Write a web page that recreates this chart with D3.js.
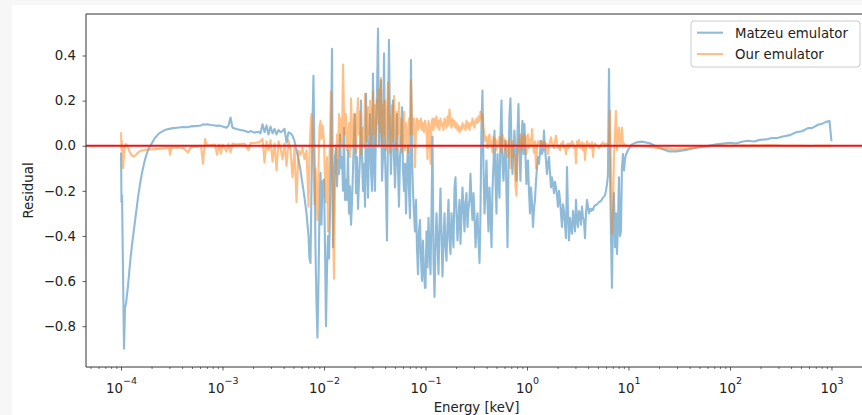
<!DOCTYPE html>
<html>
<head>
<meta charset="utf-8">
<script src="https://cdn.jsdelivr.net/npm/d3@7"></script>
<style>
  html, body { margin: 0; padding: 0; background: #f7f7f7; }
  svg { display: block; }
  text { font-family: "DejaVu Sans", sans-serif; fill: #222; }
</style>
</head>
<body>
<svg id="chart" width="862" height="415"></svg>
<script>
// Photon energy grid (keV), shared by both residual curves
const energyKeV = [
  1.000e-4, 1.011e-4, 1.023e-4, 1.046e-4, 1.070e-4, 1.095e-4, 1.120e-4, 1.172e-4, 1.227e-4, 1.283e-4,
  1.343e-4, 1.405e-4, 1.470e-4, 1.539e-4, 1.610e-4, 1.685e-4, 1.763e-4, 1.845e-4, 1.975e-4, 2.163e-4,
  2.368e-4, 2.714e-4, 2.972e-4, 3.038e-4, 3.110e-4, 3.563e-4, 4.083e-4, 4.568e-4, 4.895e-4, 5.608e-4,
  6.141e-4, 6.426e-4, 6.724e-4, 7.036e-4, 7.704e-4, 8.436e-4, 8.828e-4, 9.238e-4, 9.666e-4,

  1.000e-3, 1.095e-3, 1.146e-3, 1.199e-3, 1.254e-3, 1.374e-3, 1.504e-3, 1.647e-3, 1.804e-3, 1.888e-3,
  2.067e-3, 2.263e-3, 2.368e-3, 2.478e-3, 2.594e-3, 2.714e-3, 2.840e-3, 2.972e-3, 3.110e-3, 3.254e-3,
  3.405e-3, 3.563e-3, 3.729e-3, 3.902e-3, 4.083e-3, 4.272e-3, 4.471e-3, 4.677e-3, 4.895e-3, 5.122e-3,
  5.359e-3, 5.608e-3, 5.868e-3, 6.141e-3, 6.426e-3, 6.724e-3, 7.036e-3, 7.189e-3, 7.362e-3, 7.523e-3,
  7.704e-3, 7.872e-3, 8.062e-3, 8.237e-3, 8.436e-3, 8.619e-3, 8.828e-3, 9.019e-3, 9.238e-3, 9.437e-3,
  9.666e-3,

  1.000e-2, 1.023e-2, 1.046e-2, 1.070e-2, 1.095e-2, 1.120e-2, 1.146e-2, 1.172e-2, 1.199e-2, 1.227e-2,
  1.254e-2, 1.283e-2, 1.313e-2, 1.343e-2, 1.374e-2, 1.405e-2, 1.438e-2, 1.470e-2, 1.504e-2, 1.539e-2,
  1.574e-2, 1.610e-2, 1.647e-2, 1.685e-2, 1.724e-2, 1.763e-2, 1.804e-2, 1.845e-2, 1.888e-2, 1.930e-2,
  1.975e-2, 2.020e-2, 2.067e-2, 2.114e-2, 2.163e-2, 2.212e-2, 2.263e-2, 2.314e-2, 2.368e-2, 2.422e-2,
  2.478e-2, 2.534e-2, 2.594e-2, 2.651e-2, 2.714e-2, 2.774e-2, 2.840e-2, 2.903e-2, 2.972e-2, 3.038e-2,
  3.110e-2, 3.179e-2, 3.254e-2, 3.326e-2, 3.405e-2, 3.480e-2, 3.563e-2, 3.642e-2, 3.729e-2, 3.811e-2,
  3.902e-2, 3.987e-2, 4.083e-2, 4.172e-2, 4.272e-2, 4.366e-2, 4.471e-2, 4.568e-2, 4.677e-2, 4.780e-2,
  4.895e-2, 5.002e-2, 5.122e-2, 5.234e-2, 5.359e-2, 5.477e-2, 5.608e-2, 5.731e-2, 5.868e-2, 5.997e-2,
  6.141e-2, 6.275e-2, 6.426e-2, 6.566e-2, 6.724e-2, 6.871e-2, 7.036e-2, 7.189e-2, 7.362e-2, 7.523e-2,
  7.704e-2, 7.872e-2, 8.062e-2, 8.237e-2, 8.436e-2, 8.619e-2, 8.828e-2, 9.019e-2, 9.238e-2, 9.437e-2,
  9.666e-2, 9.875e-2,

  1.000e-1, 1.023e-1, 1.046e-1, 1.070e-1, 1.095e-1, 1.120e-1, 1.146e-1, 1.172e-1, 1.199e-1, 1.227e-1,
  1.254e-1, 1.283e-1, 1.313e-1, 1.343e-1, 1.374e-1, 1.405e-1, 1.438e-1, 1.470e-1, 1.504e-1, 1.539e-1,
  1.574e-1, 1.610e-1, 1.647e-1, 1.685e-1, 1.724e-1, 1.763e-1, 1.804e-1, 1.845e-1, 1.888e-1, 1.930e-1,
  1.975e-1, 2.020e-1, 2.067e-1, 2.114e-1, 2.163e-1, 2.212e-1, 2.263e-1, 2.314e-1, 2.368e-1, 2.422e-1,
  2.478e-1, 2.534e-1, 2.594e-1, 2.651e-1, 2.714e-1, 2.774e-1, 2.840e-1, 2.903e-1, 2.972e-1, 3.038e-1,
  3.110e-1, 3.179e-1, 3.254e-1, 3.326e-1, 3.405e-1, 3.480e-1, 3.563e-1, 3.642e-1, 3.729e-1, 3.811e-1,
  3.902e-1, 3.987e-1, 4.083e-1, 4.172e-1, 4.272e-1, 4.366e-1, 4.471e-1, 4.568e-1, 4.677e-1, 4.780e-1,
  4.895e-1, 5.002e-1, 5.122e-1, 5.234e-1, 5.359e-1, 5.477e-1, 5.608e-1, 5.731e-1, 5.868e-1, 5.997e-1,
  6.141e-1, 6.275e-1, 6.426e-1, 6.566e-1, 6.724e-1, 6.871e-1, 7.036e-1, 7.189e-1, 7.362e-1, 7.523e-1,
  7.704e-1, 7.872e-1, 8.062e-1, 8.237e-1, 8.436e-1, 8.619e-1, 8.828e-1, 9.019e-1, 9.238e-1, 9.437e-1,
  9.666e-1, 9.875e-1,

  1.000, 1.023, 1.046, 1.070, 1.095, 1.120, 1.146, 1.172, 1.199, 1.227,
  1.254, 1.283, 1.313, 1.343, 1.374, 1.405, 1.438, 1.470, 1.504, 1.539,
  1.574, 1.610, 1.647, 1.685, 1.724, 1.763, 1.804, 1.845, 1.888, 1.930,
  1.975, 2.020, 2.067, 2.114, 2.163, 2.212, 2.263, 2.314, 2.368, 2.422,
  2.478, 2.534, 2.594, 2.651, 2.714, 2.774, 2.840, 2.903, 2.972, 3.038,
  3.110, 3.179, 3.254, 3.326, 3.405, 3.480, 3.563, 3.642, 3.729, 3.811,
  3.902, 3.987, 4.083, 4.172, 4.272, 4.366, 4.471, 4.568, 4.677,
  4.895, 5.122, 5.359, 5.608, 5.868, 5.997, 6.141, 6.275,
  6.426, 6.566, 6.724, 6.871, 7.036, 7.189, 7.362, 7.523, 7.704, 7.872,
  8.062, 8.237, 8.436, 8.619, 8.828, 9.019, 9.238, 9.437,
  9.875,

  10.7, 11.99, 13.74, 16.47, 18.88, 21.63, 24.78, 29.72, 35.63, 42.72,
  51.22, 61.41, 73.62, 100, 114.6, 131.3, 150.4, 172.4, 197.5, 226.3,
  259.4, 297.2, 340.5, 390.2, 447.1, 512.2, 586.8, 642.6, 736.2, 806.2,
  882.8, 955.7, 1000
];

// Residual of the Matzeu emulator at each energy
const matzeuResidual = [
  -0.03, -0.25, -0.22, -0.55, -0.90, -0.72, -0.70, -0.62, -0.52, -0.44,
  -0.37, -0.30, -0.23, -0.17, -0.12, -0.08, -0.045, -0.02, 0.005, 0.035,
  0.055, 0.07, 0.075, 0.074, 0.077, 0.08, 0.083, 0.082, 0.086, 0.088,
  0.09, 0.095, 0.093, 0.095, 0.092, 0.09, 0.088, 0.09, 0.087,

  0.085, 0.08, 0.09, 0.125, 0.08, 0.074, 0.07, 0.066, 0.06, 0.065,
  0.058, 0.062, 0.055, 0.095, 0.06, 0.09, 0.05, 0.085, 0.055, 0.075,
  0.05, 0.07, 0.06, 0.065, 0.075, 0.015, 0.06, 0.055, 0.045, 0.02,
  -0.02, -0.06, -0.11, -0.17, -0.23, -0.30, -0.40, -0.50, -0.52, -0.2,
  0.1, 0.31, -0.05, -0.45, -0.7, -0.85, -0.6, -0.3, -0.12, -0.35,
  -0.16,

  -0.15, -0.45, -0.80, -0.55, -0.40, -0.5, -0.30, 0.0, 0.43, -0.45,
  -0.2, -0.05, -0.007, -0.18, -0.06, -0.125, 0.05, -0.1, -0.05, -0.2,
  0.08, -0.24, -0.15, -0.24, -0.02, -0.30, -0.18, -0.35, -0.25, -0.11,
  0.05, 0.14, -0.21, -0.05, -0.28, -0.155, -0.05, 0.2, -0.05, -0.2,
  -0.08, -0.27, 0.23, -0.08, -0.23, 0.0, 0.14, -0.11, -0.2, 0.32,
  -0.095, -0.2, 0.1, 0.22, 0.52, 0.0, 0.1, 0.29, -0.155, -0.05,
  0.41, -0.037, -0.2, -0.42, 0.1, 0.47, 0.05, -0.125, 0.05, 0.2,
  -0.05, -0.185, -0.05, 0.14, -0.1, -0.27, -0.05, 0.0, 0.17, -0.1,
  -0.2, -0.08, -0.30, -0.1, 0.0, -0.2, -0.32, 0.38, -0.04, -0.2,
  -0.3, -0.38, -0.24, -0.45, -0.57, -0.38, -0.33, -0.50, -0.60, -0.42,
  -0.55, -0.63,

  -0.63, -0.38, -0.54, -0.32, -0.46, -0.57, -0.3, 0.04, -0.5, -0.67,
  -0.45, -0.30, -0.42, -0.57, -0.35, -0.19, -0.4, -0.58, -0.42, -0.30,
  -0.45, -0.51, -0.35, -0.24, -0.42, -0.48, -0.30, -0.38, -0.45, -0.185,
  -0.14, -0.3, -0.42, -0.32, -0.24, -0.435, -0.3, -0.185, -0.28, -0.38,
  -0.25, -0.21, -0.36, -0.28, -0.24, -0.125, -0.25, -0.33, -0.21, -0.3,
  -0.45, -0.35, -0.30, -0.42, -0.52, -0.3, 0.1, 0.245, -0.1, -0.30,
  -0.2, -0.066, -0.25, -0.38, -0.185, -0.3, -0.45, -0.2, -0.08, 0.067,
  -0.15, -0.30, -0.037, -0.15, -0.23, 0.05, 0.2, -0.08, -0.155, -0.05,
  0.022, -0.2, -0.45, -0.1, 0.14, 0.21, 0.0, -0.125, -0.02, 0.067,
  -0.05, -0.155, 0.05, 0.185, -0.02, -0.155, 0.02, 0.11, -0.037, 0.096,
  -0.05, -0.17,

  -0.1, -0.066, -0.2, -0.30, -0.185, -0.25, -0.36, -0.28, -0.24, -0.155,
  -0.1, -0.05, -0.08, -0.03, 0.022, -0.037, -0.02, 0.067, -0.01, -0.066,
  -0.125, -0.08, -0.05, -0.12, -0.185, -0.14, -0.17, -0.21, -0.16, -0.185,
  -0.22, -0.27, -0.2, -0.24, -0.3, -0.36, -0.26, -0.29, -0.35, -0.41,
  -0.095, -0.3, -0.42, -0.32, -0.36, -0.39, -0.29, -0.34, -0.38, -0.24,
  -0.33, -0.36, -0.29, -0.3, -0.35, -0.27, -0.32, -0.33, -0.41, -0.3,
  -0.24, -0.27, -0.3, -0.28, -0.29, -0.28, -0.285, -0.27, -0.265,
  -0.26, -0.25, -0.245, -0.23, -0.22, -0.2, -0.17, -0.13,
  0.34, -0.1, -0.4, -0.63, -0.3, -0.21, -0.45, -0.3, -0.48, -0.35,
  -0.14, -0.4, -0.38, -0.1, -0.037, -0.11, -0.06, -0.04,
  -0.02,

  0.005, 0.015, 0.018, 0.01, -0.004, -0.015, -0.025, -0.025, -0.02, -0.012,
  -0.006, 0.0, 0.006, 0.013, 0.01, 0.018, 0.022, 0.019, 0.026, 0.028,
  0.034, 0.035, 0.042, 0.047, 0.06, 0.064, 0.078, 0.078, 0.093, 0.097,
  0.106, 0.11, 0.02
];

// Residual of our emulator at each energy
const ourResidual = [
  0.06, -0.02, 0.02, -0.10, -0.04, 0.0, 0.008, -0.01, -0.03, -0.045,
  -0.047, -0.04, -0.03, -0.025, -0.02, -0.02, -0.018, -0.017, -0.016, -0.015,
  -0.014, -0.012, -0.01, -0.04, -0.01, -0.008, -0.01, -0.03, -0.005, -0.003,
  0.0, -0.08, 0.03, 0.002, 0.003, 0.005, -0.04, 0.005, -0.035,

  0.005, -0.025, 0.008, -0.03, 0.01, 0.005, 0.008, 0.01, -0.02, 0.012,
  0.012, 0.015, 0.02, 0.03, -0.075, 0.02, -0.02, 0.025, -0.07, 0.01,
  -0.11, 0.02, -0.01, -0.06, 0.01, -0.09, 0.025, -0.02, -0.14, -0.01,
  -0.25, -0.02, -0.04, -0.01, -0.06, -0.02, -0.27, -0.05, 0.08, 0.14,
  0.05, -0.05, -0.26, -0.1, -0.2, -0.33, -0.1, 0.08, 0.11, 0.03,
  0.09,

  0.02, -0.155, -0.25, -0.05, -0.38, -0.15, 0.05, 0.24, -0.1, -0.35,
  -0.59, -0.2, -0.08, 0.05, -0.05, 0.14, 0.02, 0.12, 0.0, 0.36,
  0.14, 0.05, 0.14, -0.02, 0.0, 0.1, -0.05, 0.21, 0.06, 0.0,
  0.14, 0.05, -0.03, 0.12, 0.21, 0.05, 0.15, -0.04, 0.02, 0.08,
  0.0, 0.23, 0.1, 0.02, 0.17, 0.05, 0.2, 0.0, 0.12, 0.24,
  0.05, 0.18, 0.0, 0.2, 0.1, 0.25, 0.06, 0.3, 0.0, 0.18,
  0.05, 0.2, -0.02, 0.12, 0.28, 0.15, -0.03, 0.1, 0.18, 0.02,
  0.22, 0.1, -0.02, 0.15, 0.05, 0.19, 0.0, 0.12, -0.03, 0.08,
  0.15, -0.02, 0.1, 0.05, -0.03, 0.12, 0.05, 0.29, 0.1, 0.05,
  0.12, -0.095, 0.08, 0.12, 0.07, 0.11, 0.08, 0.12, 0.07, 0.1,
  0.06, 0.11,

  0.1, 0.07, -0.06, 0.11, 0.08, -0.08, 0.1, 0.12, 0.07, 0.12,
  0.09, 0.13, 0.08, 0.11, 0.07, 0.12, 0.09, 0.1, 0.07, 0.12,
  0.1, 0.08, 0.13, 0.09, 0.16, 0.11, 0.08, 0.12, 0.09, 0.11,
  0.08, 0.1, 0.07, 0.09, 0.06, 0.08, 0.07, 0.1, 0.08, 0.09,
  0.07, 0.11, 0.08, 0.1, 0.07, 0.1, 0.09, 0.12, 0.1, 0.08,
  0.11, 0.12, 0.1, 0.13, 0.11, 0.15, 0.12, 0.14, 0.08, 0.05,
  0.02, 0.04, -0.01, 0.03, 0.05, 0.0, 0.02, -0.03, 0.04, 0.01,
  0.03, -0.02, 0.02, 0.0, 0.04, 0.02, -0.03, 0.05, 0.0, 0.03,
  -0.02, 0.02, -0.05, 0.0, 0.03, -0.1, -0.02, 0.02, -0.05, -0.04,
  -0.18, -0.22, -0.05, 0.0, 0.03, 0.05, -0.02, 0.04, 0.0, 0.05,
  -0.01, -0.037,

  0.04, 0.05, -0.01, 0.03, 0.0, 0.074, 0.0, -0.03, 0.02, -0.1,
  0.0, 0.02, 0.01, 0.02, 0.0, 0.015, 0.005, 0.02, 0.0, 0.01,
  -0.01, -0.037, 0.0, 0.02, 0.037, 0.01, 0.0, -0.01, 0.02, 0.044,
  0.01, -0.01, 0.0, -0.02, 0.01, 0.0, 0.02, -0.01, 0.0, -0.037,
  0.0, 0.01, -0.01, 0.01, 0.0, 0.02, 0.01, -0.01, 0.0, -0.078,
  0.02, 0.0, 0.025, -0.01, 0.0, 0.015, -0.02, 0.01, -0.063, -0.01,
  0.02, 0.0, 0.01, -0.01, 0.0, 0.015, -0.05, 0.0, 0.01,
  0.0, -0.01, 0.005, 0.015, 0.0, 0.01, 0.0, 0.0,
  0.02, 0.155, -0.1, -0.39, -0.3, -0.05, 0.05, 0.155, -0.02, 0.06,
  0.08, 0.0, 0.02, 0.08, 0.0, 0.01, 0.005, 0.0,
  0.0,

  -0.002, 0.0, -0.002, -0.006, -0.01, -0.012, -0.015, -0.016, -0.014, -0.01,
  -0.006, -0.003, 0.0, 0.001, 0.0, 0.002, 0.001, 0.002, 0.001, 0.002,
  0.002, 0.001, 0.0, 0.0, 0.0, 0.0, -0.001, -0.001, 0.0, 0.0,
  0.0, 0.0, 0.0
];

const seriesNames = ["Matzeu emulator", "Our emulator"];
const xTickPowers = [-4, -3, -2, -1, 0, 1, 2, 3];
const yTickValues = [-0.8, -0.6, -0.4, -0.2, 0.0, 0.2, 0.4];

const W = 862, H = 415;
const plot = { left: 86, top: 14, right: 867, bottom: 367 };
const colors = { matzeu: "#1f77b4", ours: "#ff7f0e", zero: "#ee1111" };
const fontSize = 13.3;
const lineWidth = 2.1;

const svg = d3.select("#chart");

// figure canvas
svg.append("rect")
  .attr("x", 12).attr("y", 5)
  .attr("width", W - 12).attr("height", H - 5)
  .attr("fill", "#ffffff");

const x = d3.scaleLog()
  .domain([Math.pow(10, -4.345), Math.pow(10, 3.35)])
  .range([plot.left, plot.right]);
const y = d3.scaleLinear()
  .domain([-0.981, 0.584])
  .range([plot.bottom, plot.top]);

svg.append("defs").append("clipPath").attr("id", "plotClip")
  .append("rect")
  .attr("x", plot.left).attr("y", plot.top)
  .attr("width", plot.right - plot.left).attr("height", plot.bottom - plot.top);

const matzeuPts = energyKeV.map((e, i) => [e, matzeuResidual[i]]);
const ourPts = energyKeV.map((e, i) => [e, ourResidual[i]]);

const line = d3.line().x(d => x(d[0])).y(d => y(d[1]));

const g = svg.append("g").attr("clip-path", "url(#plotClip)");
g.append("path").datum(matzeuPts)
  .attr("d", line)
  .attr("fill", "none")
  .attr("stroke", colors.matzeu)
  .attr("stroke-opacity", 0.5)
  .attr("stroke-width", lineWidth)
  .attr("stroke-linejoin", "round");
g.append("path").datum(ourPts)
  .attr("d", line)
  .attr("fill", "none")
  .attr("stroke", colors.ours)
  .attr("stroke-opacity", 0.5)
  .attr("stroke-width", lineWidth)
  .attr("stroke-linejoin", "round");

// zero reference line across the whole axes
g.append("line")
  .attr("x1", plot.left).attr("x2", plot.right)
  .attr("y1", y(0)).attr("y2", y(0))
  .attr("stroke", colors.zero)
  .attr("stroke-width", 2);

// x axis: major decades with power-of-ten labels, minor ticks 2..9
const majorTicks = xTickPowers.map(p => Math.pow(10, p));
const minorTicks = [];
for (let p = -5; p <= 3; p++) {
  for (let m = 2; m <= 9; m++) {
    const v = m * Math.pow(10, p);
    if (v > x.domain()[0] && v < x.domain()[1]) minorTicks.push(v);
  }
}

const xMinor = svg.append("g")
  .attr("transform", `translate(0,${plot.bottom})`)
  .call(d3.axisBottom(x).tickValues(minorTicks).tickSize(2).tickFormat(""));
xMinor.select(".domain").remove();
xMinor.selectAll(".tick line").attr("stroke", "#333").attr("stroke-width", 0.7);

const xMajor = svg.append("g")
  .attr("transform", `translate(0,${plot.bottom})`)
  .call(d3.axisBottom(x).tickValues(majorTicks).tickSize(3.5).tickSizeOuter(0));
xMajor.select(".domain").remove();
xMajor.selectAll(".tick line").attr("stroke", "#333").attr("stroke-width", 0.8);
xMajor.selectAll(".tick text")
  .attr("y", 26).attr("dy", null)
  .attr("font-size", fontSize)
  .each(function (d) {
    const t = d3.select(this);
    const p = Math.round(Math.log10(d));
    t.text(null);
    t.append("tspan").text("10");
    t.append("tspan")
      .attr("dy", -9.5)
      .attr("font-size", 9.5)
      .text(p < 0 ? "\u2212" + Math.abs(p) : String(p));
  });

// y axis
const yAxis = svg.append("g")
  .attr("transform", `translate(${plot.left},0)`)
  .call(d3.axisLeft(y).tickValues(yTickValues).tickSize(3.5).tickSizeOuter(0)
    .tickFormat(d3.format(".1f")));
yAxis.select(".domain").remove();
yAxis.selectAll(".tick line").attr("stroke", "#333").attr("stroke-width", 0.8);
yAxis.selectAll(".tick text").attr("font-size", fontSize).attr("x", -10);

// spines
const spine = svg.append("g").attr("stroke", "#333").attr("stroke-width", 1);
spine.append("line").attr("x1", plot.left).attr("x2", plot.left).attr("y1", plot.top).attr("y2", plot.bottom);
spine.append("line").attr("x1", plot.left).attr("x2", plot.right).attr("y1", plot.top).attr("y2", plot.top);
spine.append("line").attr("x1", plot.left).attr("x2", plot.right).attr("y1", plot.bottom).attr("y2", plot.bottom);

// axis titles
svg.append("text")
  .attr("x", (plot.left + plot.right) / 2).attr("y", 412)
  .attr("text-anchor", "middle").attr("font-size", fontSize)
  .text("Energy [keV]");
svg.append("text")
  .attr("transform", `translate(33,${(plot.top + plot.bottom) / 2}) rotate(-90)`)
  .attr("text-anchor", "middle").attr("font-size", fontSize)
  .text("Residual");

// legend
const legend = svg.append("g");
legend.append("rect")
  .attr("x", 691).attr("y", 21).attr("width", 169).attr("height", 46)
  .attr("rx", 3)
  .attr("fill", "#ffffff").attr("fill-opacity", 0.8)
  .attr("stroke", "#cccccc");
[colors.matzeu, colors.ours].forEach((c, i) => {
  const cy = 32.7 + i * 21.3;
  legend.append("line")
    .attr("x1", 697).attr("x2", 723).attr("y1", cy).attr("y2", cy)
    .attr("stroke", c).attr("stroke-opacity", 0.5).attr("stroke-width", lineWidth);
  legend.append("text")
    .attr("x", 735).attr("y", cy + 4.8)
    .attr("font-size", fontSize)
    .text(seriesNames[i]);
});
</script>
</body>
</html>
